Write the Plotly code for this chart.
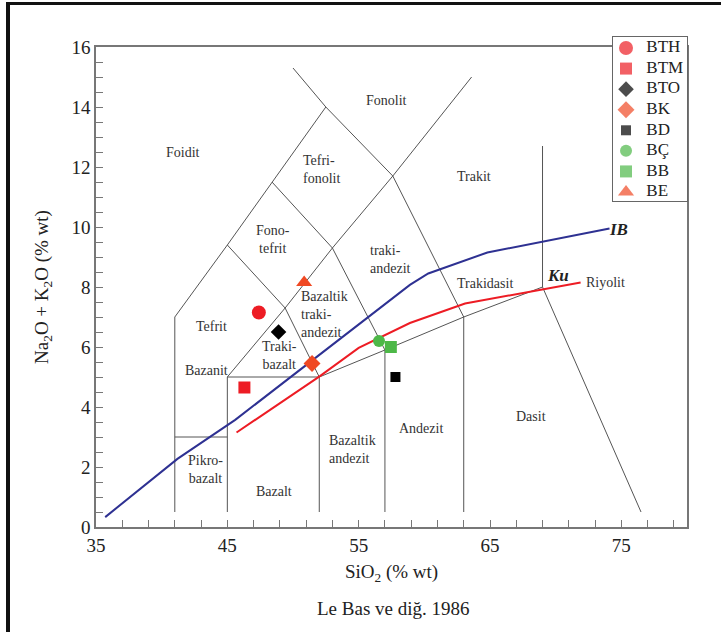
import plotly.graph_objects as go

# ---------------- data ----------------
samples = ["BTH", "BTM", "BTO", "BK", "BD", "BÇ", "BB", "BE"]
sio2 = [47.4, 46.3, 48.9, 51.45, 57.8, 56.55, 57.45, 50.85]
alk = [7.15, 4.65, 6.5, 5.45, 5.0, 6.2, 6.0, 8.15]
symbols = ["circle", "square", "diamond", "diamond", "square", "circle", "square", "triangle-up"]
colors = ["#ED1C24", "#ED1C24", "#000000", "#F04923", "#000000", "#4DB848", "#4DB848", "#F04923"]
sizes = [14, 12, 12, 13, 10, 12, 12, 14]

# field boundaries (Le Bas et al. 1986)
boundaries = [
    ([41, 41, 45, 48.4, 52.5], [0.5, 7, 9.4, 11.5, 14]),
    ([50, 52.5, 57.6, 63, 63], [15.3, 14, 11.7, 7, 0.5]),
    ([41, 45], [3, 3]),
    ([45, 45, 49.4, 53, 57.6, 63.6], [0.5, 5, 7.3, 9.3, 11.7, 15.0]),
    ([45, 49.4, 52, 52], [9.4, 7.3, 5, 0.5]),
    ([48.4, 53, 57, 57], [11.5, 9.3, 5.9, 0.5]),
    ([45, 52, 57, 63, 69, 76.5], [5, 5, 5.9, 7, 8, 0.5]),
    ([69, 69], [8, 12.7]),
]

# Irvine & Baragar (IB) and Kuno (Ku) dividing lines
ib_x = [35.7, 41.2, 45.6, 58.9, 60.3, 64.8, 74.1]
ib_y = [0.33, 2.27, 3.57, 8.07, 8.45, 9.15, 9.95]
ku_x = [45.7, 52.05, 55.0, 56.6, 58.9, 63.1, 68.0, 71.9]
ku_y = [3.15, 5.03, 5.97, 6.3, 6.8, 7.45, 7.85, 8.15]

field_names = ["Foidit", "Fonolit", "Tefri-<br>fonolit", "Trakit", "Fono-<br>tefrit",
               "traki-<br>andezit", "Trakidasit", "Riyolit", "Tefrit",
               "Bazaltik<br>traki-<br>andezit", "Traki-<br>bazalt", "Bazanit",
               "Pikro-<br>bazalt", "Bazalt", "Bazaltik<br>andezit", "Andezit", "Dasit"]
field_x = [41.6, 57.1, 52.2, 63.8, 48.5, 57.4, 64.6, 73.8, 43.8, 52.4, 49.0, 43.4,
           43.3, 48.55, 54.5, 59.75, 68.1]
field_y = [12.5, 14.23, 11.93, 11.7, 9.57, 8.93, 8.13, 8.15, 6.67, 7.1, 5.73, 5.23,
           1.93, 1.2, 2.57, 3.3, 3.7]
left_aligned = ["Tefri-<br>fonolit", "traki-<br>andezit", "Bazaltik<br>traki-<br>andezit",
                "Bazaltik<br>andezit"]

line_names = ["IB", "Ku"]
line_label_x = [74.75, 70.2]
line_label_y = [9.93, 8.4]

# ---------------- layout geometry (pixels) ----------------
W, H = 721, 632
PLOT_L, PLOT_R, PLOT_T, PLOT_B = 96, 687, 47, 527
LEG_L, LEG_T, LEG_B = 613, 37, 201
ML, MR, MT, MB = PLOT_L, W - PLOT_R, LEG_T, H - PLOT_B
FONT = "Liberation Serif, Times New Roman, serif"

pw = W - ML - MR
ph = H - MT - MB


def px(xp):
    return (xp - ML) / pw


def py(yp):
    return (H - MB - yp) / ph


fig = go.Figure()

for bx, by in boundaries:
    fig.add_trace(go.Scatter(x=bx, y=by, mode="lines", showlegend=False, hoverinfo="skip",
                             line=dict(color="#555555", width=1)))

fig.add_trace(go.Scatter(x=ib_x, y=ib_y, mode="lines", showlegend=False,
                         line=dict(color="#2E3192", width=2)))
fig.add_trace(go.Scatter(x=ku_x, y=ku_y, mode="lines", showlegend=False,
                         line=dict(color="#ED1C24", width=2)))

for n, x, y, s, c, sz in zip(samples, sio2, alk, symbols, colors, sizes):
    fig.add_trace(go.Scatter(x=[x], y=[y], mode="markers", name=n, showlegend=False,
                             marker=dict(symbol=s, color=c, size=sz, line=dict(width=0))))

# legend box drawn as a small inset subplot: one row per sample
rows = list(range(len(samples)))
fig.add_trace(go.Scatter(x=[0.176] * len(samples), y=rows, mode="markers", xaxis="x2", yaxis="y2",
                         showlegend=False, hoverinfo="skip",
                         marker=dict(symbol=symbols, color=colors, size=sizes, line=dict(width=0))))
fig.add_trace(go.Scatter(x=[0.45] * len(samples), y=rows, mode="text", text=samples,
                         textposition="middle right", xaxis="x2", yaxis="y2",
                         showlegend=False, hoverinfo="skip",
                         textfont=dict(family=FONT, size=17, color="#222222")))

annotations = []
for t, x, y in zip(field_names, field_x, field_y):
    annotations.append(dict(x=x, y=y, text=t, showarrow=False, xref="x", yref="y",
                            xanchor="center", yanchor="middle",
                            align="left" if t in left_aligned else "center",
                            font=dict(family=FONT, size=14, color="#333333")))
for t, x, y in zip(line_names, line_label_x, line_label_y):
    annotations.append(dict(x=x, y=y, text="<b><i>%s</i></b>" % t, showarrow=False,
                            xanchor="center", yanchor="middle",
                            font=dict(family=FONT, size=17, color="#222222")))

annotations.append(dict(x=px(393), y=py(608), xref="paper", yref="paper",
                        xanchor="center", yanchor="middle",
                        text="Le Bas ve diğ. 1986", showarrow=False,
                        font=dict(family=FONT, size=19, color="#222222")))

shapes = [
    dict(type="line", xref="paper", yref="paper", x0=px(8), x1=px(8), y0=py(2), y1=py(660),
         line=dict(color="#111111", width=4)),
    dict(type="line", xref="paper", yref="paper", x0=px(6), x1=px(760), y0=py(3.5), y1=py(3.5),
         line=dict(color="#111111", width=3)),
]

axis_common = dict(showgrid=False, zeroline=False, showline=True, linecolor="#777777",
                   linewidth=1.5, mirror=True, ticks="inside", ticklen=7, tickcolor="#777777",
                   automargin=False,
                   tickfont=dict(family=FONT, size=19, color="#222222"))

row_px = (LEG_B - LEG_T - 11 - 9) / (len(samples) - 1)

fig.update_layout(
    width=W, height=H,
    margin=dict(l=ML, r=MR, t=MT, b=MB, autoexpand=False),
    paper_bgcolor="white", plot_bgcolor="white",
    font=dict(family=FONT, color="#222222"),
    xaxis=dict(range=[35, 80], tick0=35, dtick=10, domain=[0, 1],
               minor=dict(dtick=2, tick0=35, ticks="inside", ticklen=7, tickcolor="#777777"),
               title=dict(text="SiO<sub>2</sub> (% wt)", font=dict(family=FONT, size=19), standoff=10),
               **axis_common),
    yaxis=dict(range=[0, 16], tick0=0, dtick=2, domain=[0, py(PLOT_T)],
               minor=dict(dtick=0.5, ticks="inside", ticklen=7, tickcolor="#777777"),
               title=dict(text="Na<sub>2</sub>O + K<sub>2</sub>O (% wt)", font=dict(family=FONT, size=19),
                          standoff=18),
               **axis_common),
    xaxis2=dict(domain=[px(LEG_L), 1], range=[0, 1], anchor="y2", showgrid=False, zeroline=False,
                showticklabels=False, ticks="", showline=True, mirror=True, linecolor="#666666",
                linewidth=1, fixedrange=True),
    yaxis2=dict(domain=[py(LEG_B), 1], range=[len(samples) - 1 + 9 / row_px, -11 / row_px],
                anchor="x2", showgrid=False, zeroline=False, showticklabels=False, ticks="",
                showline=True, mirror=True, linecolor="#666666", linewidth=1, fixedrange=True),
    annotations=annotations,
    shapes=shapes,
    showlegend=False,
)

fig.write_html("out.html", post_script="document.body.style.margin='0px';",
               config={"displayModeBar": False})
